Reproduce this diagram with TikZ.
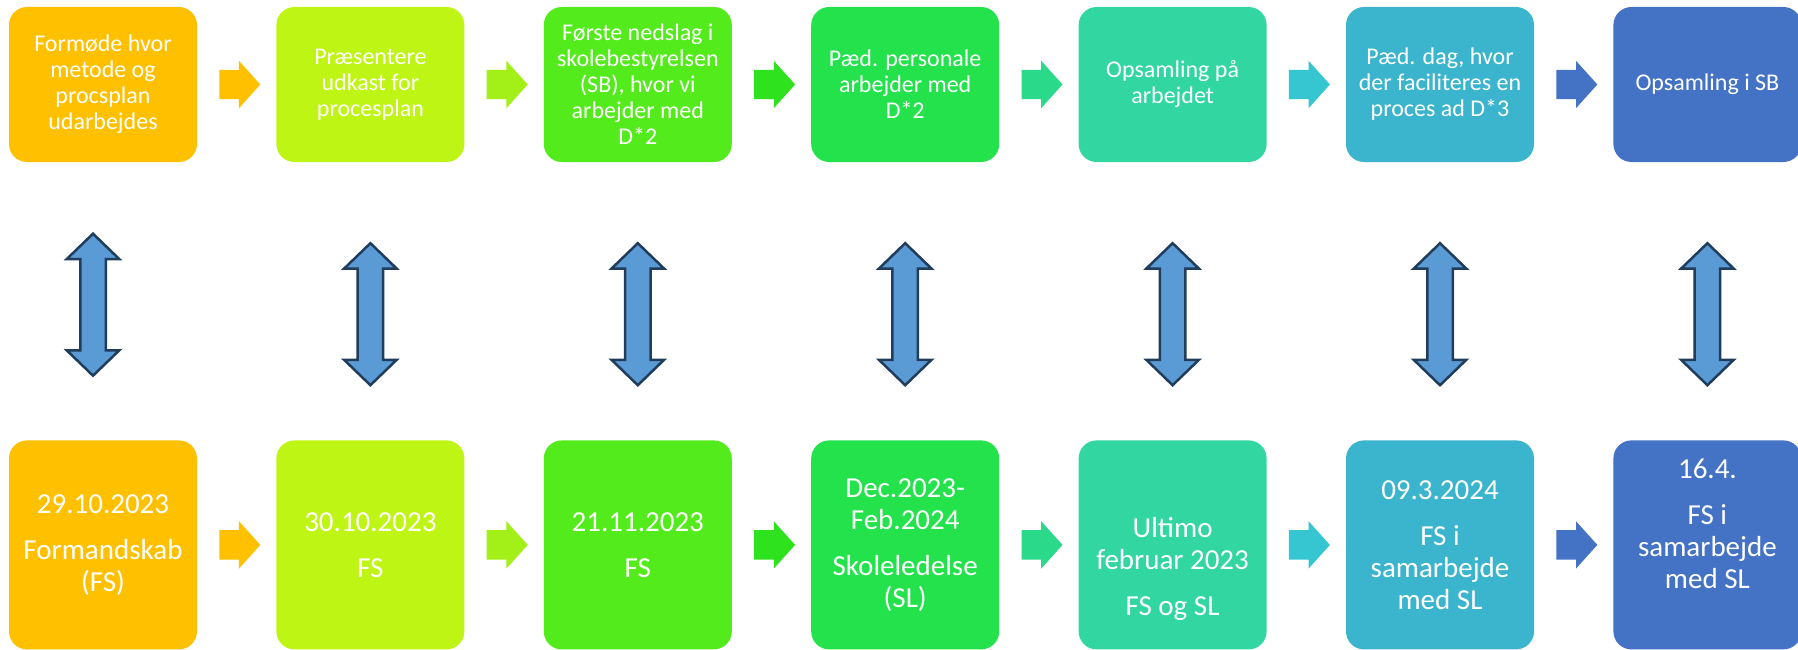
\documentclass[tikz,border=0pt]{standalone}
\usepackage{fontspec}
\setmainfont{Carlito}
\usetikzlibrary{positioning, shapes.arrows, calc}

\definecolor{c1}{HTML}{FFC000}
\definecolor{c2}{HTML}{BFF514}
\definecolor{c3}{HTML}{53EB1C}
\definecolor{c4}{HTML}{23E24B}
\definecolor{c5}{HTML}{31D6A0}
\definecolor{c6}{HTML}{3BB5CE}
\definecolor{c7}{HTML}{4472C4}
\definecolor{f1}{HTML}{FFC000}
\definecolor{f2}{HTML}{A3EF18}
\definecolor{f3}{HTML}{2EE31E}
\definecolor{f4}{HTML}{2BD98A}
\definecolor{f5}{HTML}{36C6D2}
\definecolor{f6}{HTML}{4472C4}
\definecolor{linkfill}{HTML}{5B9BD5}
\definecolor{linkdraw}{HTML}{203D5C}

\begin{document}
\begin{tikzpicture}[
    x=1pt, y=-1pt,
    node distance=79pt,
    % Styles
    stepbox/.style={ % Upper row: what happens
        rectangle,
        rounded corners=18pt,
        minimum width=188pt,
        minimum height=155pt,
        text=white,
        align=center,
        font=\fontsize{24}{26}\selectfont
    },
    datebox/.style={ % Lower row: when and who
        rectangle,
        rounded corners=18pt,
        minimum width=188pt,
        minimum height=209pt
    },
    datetext/.style={
        text=white,
        align=center,
        font=\fontsize{29}{32}\selectfont
    },
    flow/.style={ % Arrow from one step to the next
        single arrow,
        minimum height=41pt,
        inner xsep=0pt,
        inner ysep=14.5pt,
        single arrow head extend=9pt,
        single arrow tip angle=96,
        xshift=-3.5pt
    },
    link/.style={ % Two-way arrow between the rows
        double arrow,
        rotate=90,
        draw=linkdraw,
        fill=linkfill,
        line width=2.5pt,
        minimum height=142pt,
        inner xsep=0pt,
        inner ysep=11.5pt,
        double arrow head extend=13.5pt,
        double arrow tip angle=92
    }
]
    \useasboundingbox (0,0) rectangle (1798,650);

    % Upper row
    \node[stepbox, fill=c1] (s1) at (103,84.5) {Formøde hvor\\metode og\\procsplan\\udarbejdes};
    \node[stepbox, fill=c2, right=of s1] (s2) {Præsentere\\udkast for\\procesplan};
    \node[stepbox, fill=c3, right=of s2] (s3) {Første nedslag i\\skolebestyrelsen\\(SB), hvor vi\\arbejder med\\D*2};
    \node[stepbox, fill=c4, right=of s3] (s4) {Pæd. personale\\arbejder med\\D*2};
    \node[stepbox, fill=c5, right=of s4] (s5) {Opsamling på\\arbejdet};
    \node[stepbox, fill=c6, right=of s5] (s6) {Pæd. dag, hvor\\der faciliteres en\\proces ad D*3};
    \node[stepbox, fill=c7, right=of s6] (s7) {Opsamling i SB};

    % Lower row
    \node[datebox, fill=c1, below=278pt of s1] (d1) {};
    \node[datebox, fill=c2, below=278pt of s2] (d2) {};
    \node[datebox, fill=c3, below=278pt of s3] (d3) {};
    \node[datebox, fill=c4, below=278pt of s4] (d4) {};
    \node[datebox, fill=c5, below=278pt of s5] (d5) {};
    \node[datebox, fill=c6, below=278pt of s6] (d6) {};
    \node[datebox, fill=c7, below=278pt of s7] (d7) {};

    \node[datetext] (d1t) at (d1) {29.10.2023\\[14pt]Formandskab\\(FS)};
    \node[datetext] (d2t) at (d2) {30.10.2023\\[14pt]FS};
    \node[datetext] (d3t) at (d3) {21.11.2023\\[14pt]FS};
    \node[datetext] (d4t) at (d4) {Dec.2023-\\Feb.2024\\[14pt]Skoleledelse\\(SL)};
    \node[datetext] (d5t) at ($(d5)+(0,24)$) {Ultimo\\februar 2023\\[14pt]FS og SL};
    \node[datetext] (d6t) at (d6) {09.3.2024\\[14pt]FS i\\samarbejde\\med SL};
    \node[datetext] (d7t) at ($(d7)+(0,-21)$) {16.4.\\[14pt]FS i\\samarbejde\\med SL};

    % Arrows along both rows
    \foreach \a/\b in {1/2, 2/3, 3/4, 4/5, 5/6, 6/7} {
        \node[flow, fill=f\a] (fs\a) at ($(s\a.east)!0.5!(s\b.west)$) {};
        \node[flow, fill=f\a] (fd\a) at ($(d\a.east)!0.5!(d\b.west)$) {};
    }

    % Links between the rows
    \node[link] (l1) at ($(s1.south)!0.5!(d1.north)+(-10,3.5)$) {};
    \foreach \i in {2,...,7}
        \node[link] (l\i) at ($(s\i.south)!0.5!(d\i.north)+(0,13)$) {};
\end{tikzpicture}
\end{document}
